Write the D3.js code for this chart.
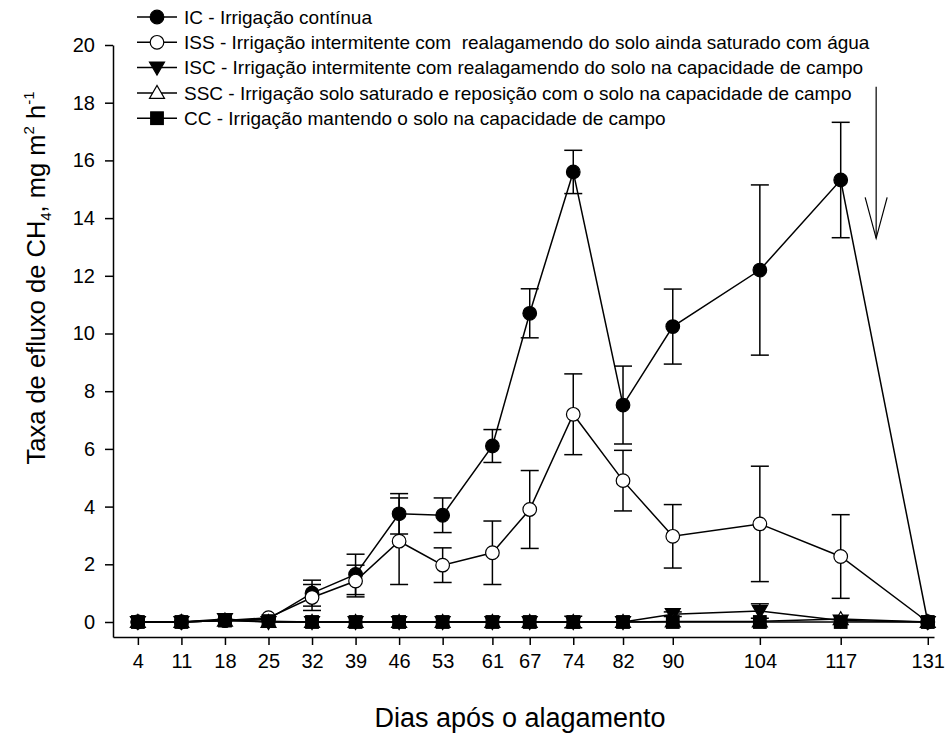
<!DOCTYPE html>
<html>
<head>
<meta charset="utf-8">
<script src="https://cdn.jsdelivr.net/npm/d3@7"></script>
<style>
  html, body { margin: 0; padding: 0; background: #fff; }
  svg { display: block; font-family: "Liberation Sans", Arial, sans-serif; }
  text { white-space: pre; }
</style>
</head>
<body>
<svg id="chart" width="948" height="733"></svg>
<script>
// Sampling days after flooding
const days = [4, 11, 18, 25, 32, 39, 46, 53, 61, 67, 74, 82, 90, 104, 117, 131];

// CH4 efflux (mg m-2 h-1) and error bars per treatment
const icValues  = [0, 0, 0.05, 0.1, 1.0, 1.65, 3.75, 3.7, 6.1, 10.7, 15.6, 7.52, 10.24, 12.2, 15.32, 0];
const icErrors  = [0, 0, 0, 0, 0.45, 0.7, 0.7, 0.6, 0.57, 0.85, 0.75, 1.35, 1.3, 2.95, 2.0, 0];
const issValues = [0, 0, 0.05, 0.15, 0.85, 1.42, 2.8, 1.97, 2.4, 3.9, 7.2, 4.9, 2.97, 3.4, 2.27, 0];
const issErrors = [0, 0, 0, 0, 0.45, 0.55, 1.5, 0.6, 1.1, 1.35, 1.4, 1.05, 1.1, 2.0, 1.45, 0];
const iscValues = [0, 0, 0.1, 0, 0, 0, 0, 0, 0, 0, 0, 0, 0.27, 0.38, 0.05, 0];
const iscErrors = [0, 0, 0, 0, 0, 0, 0, 0, 0, 0, 0.2, 0, 0.08, 0.25, 0, 0];
const sscValues = [0, 0, 0.05, 0, 0, 0, 0, 0, 0, 0, 0, 0, 0.02, 0.02, 0.1, 0];
const sscErrors = [0, 0, 0, 0, 0, 0, 0, 0, 0, 0, 0, 0, 0, 0, 0, 0];
const ccValues  = [0, 0, 0.05, 0.03, 0, 0, 0, 0, 0, 0, 0, 0, 0, 0, 0, 0];
const ccErrors  = [0, 0, 0, 0, 0, 0, 0, 0, 0, 0, 0, 0, 0, 0, 0, 0];

const yTicks = [0, 2, 4, 6, 8, 10, 12, 14, 16, 18, 20];

const seriesNames = [
  "IC - Irrigação contínua",
  "ISS - Irrigação intermitente com  realagamendo do solo ainda saturado com água",
  "ISC - Irrigação intermitente com realagamendo do solo na capacidade de campo",
  "SSC - Irrigação solo saturado e reposição com o solo na capacidade de campo",
  "CC - Irrigação mantendo o solo na capacidade de campo"
];
const seriesValues = [icValues, issValues, iscValues, sscValues, ccValues];
const seriesErrors = [icErrors, issErrors, iscErrors, sscErrors, ccErrors];
const seriesMarkers = ["circleFilled", "circleOpen", "triangleDown", "triangleUpOpen", "square"];

const svg = d3.select("#chart");

const x = d3.scaleLinear().domain([0, 132]).range([113, 934]);
const y = d3.scaleLinear().domain([-0.52, 20]).range([637, 45]);

// Axes
const xAxis = d3.axisBottom(x).tickValues(days).tickFormat(d3.format("d"))
  .tickSizeInner(8).tickSizeOuter(0).tickPadding(9);
const yAxis = d3.axisLeft(y).tickValues(yTicks).tickFormat(d3.format("d"))
  .tickSizeInner(8).tickSizeOuter(0).tickPadding(10);

const gx = svg.append("g").attr("transform", `translate(0,${y(-0.52)})`).call(xAxis);
const gy = svg.append("g").attr("transform", `translate(${x(0)},0)`).call(yAxis);
[gx, gy].forEach(g => {
  g.select(".domain").attr("stroke", "#000").attr("stroke-width", 1.5);
  g.selectAll(".tick line").attr("stroke", "#000").attr("stroke-width", 1.5);
  g.selectAll(".tick text").attr("fill", "#000").attr("font-size", 20)
    .attr("font-family", "Liberation Sans, Arial, sans-serif");
});

// Axis titles
svg.append("text")
  .attr("x", 520).attr("y", 727)
  .attr("text-anchor", "middle")
  .attr("font-size", 27)
  .text("Dias após o alagamento");

const yTitle = svg.append("text")
  .attr("transform", "translate(45,278) rotate(-90)")
  .attr("text-anchor", "middle")
  .attr("font-size", 25.5);
yTitle.append("tspan").text("Taxa de efluxo de CH");
yTitle.append("tspan").attr("font-size", 15).attr("dy", 6).text("4");
yTitle.append("tspan").attr("dy", -6).text(", mg m");
yTitle.append("tspan").attr("font-size", 15).attr("dy", -11).text("2");
yTitle.append("tspan").attr("dy", 11).text(" h");
yTitle.append("tspan").attr("font-size", 15).attr("dy", -11).text("-1");

// Marker drawing
function drawMarker(g, type, cx, cy) {
  const sw = 1.2;
  if (type === "circleFilled" || type === "circleOpen") {
    g.append("circle").attr("cx", cx).attr("cy", cy).attr("r", 6.8)
      .attr("fill", type === "circleFilled" ? "#000" : "#fff")
      .attr("stroke", "#000").attr("stroke-width", sw);
  } else if (type === "square") {
    g.append("rect").attr("x", cx - 6.3).attr("y", cy - 6.3).attr("width", 12.6).attr("height", 12.6)
      .attr("fill", "#000").attr("stroke", "#000").attr("stroke-width", sw);
  } else if (type === "triangleDown") {
    g.append("path").attr("d", `M${cx - 7.5},${cy - 5.5}L${cx + 7.5},${cy - 5.5}L${cx},${cy + 7.5}Z`)
      .attr("fill", "#000").attr("stroke", "#000").attr("stroke-width", sw);
  } else if (type === "triangleUpOpen") {
    g.append("path").attr("d", `M${cx - 7.5},${cy + 5.5}L${cx + 7.5},${cy + 5.5}L${cx},${cy - 7.5}Z`)
      .attr("fill", "#fff").attr("stroke", "#000").attr("stroke-width", sw);
  }
}

const line = d3.line().x(d => x(d.day)).y(d => y(d.v));
const capHalf = 9;

seriesValues.forEach((vals, si) => {
  const pts = days.map((day, i) => ({ day, v: vals[i], e: seriesErrors[si][i] }));
  const g = svg.append("g");
  // error bars
  pts.filter(p => p.e > 0).forEach(p => {
    const px = x(p.day), top = y(p.v + p.e), bot = y(p.v - p.e);
    g.append("line").attr("x1", px).attr("x2", px).attr("y1", top).attr("y2", bot)
      .attr("stroke", "#000").attr("stroke-width", 1.5);
    [top, bot].forEach(yy => g.append("line")
      .attr("x1", px - capHalf).attr("x2", px + capHalf).attr("y1", yy).attr("y2", yy)
      .attr("stroke", "#000").attr("stroke-width", 1.5));
  });
  g.append("path").datum(pts).attr("d", line)
    .attr("fill", "none").attr("stroke", "#000").attr("stroke-width", 1.5);
  pts.forEach(p => drawMarker(g, seriesMarkers[si], x(p.day), y(p.v)));
});

// Legend
const legend = svg.append("g");
seriesNames.forEach((name, i) => {
  const ly = 17 + i * 25.3;
  legend.append("line").attr("x1", 137).attr("x2", 177).attr("y1", ly).attr("y2", ly)
    .attr("stroke", "#000").attr("stroke-width", 1.5);
  drawMarker(legend, seriesMarkers[i], 157, ly);
  legend.append("text").attr("x", 184).attr("y", ly).attr("dy", "0.35em")
    .attr("font-size", 19).text(name);
});

// Arrow marking the end of flooding
const ax = x(122.7);
const aTop = y(18.55), aTip = y(13.3);
const arrow = svg.append("g").attr("stroke", "#000").attr("stroke-width", 1.2).attr("fill", "none");
arrow.append("line").attr("x1", ax).attr("x2", ax).attr("y1", aTop).attr("y2", aTip);
arrow.append("path").attr("d", `M${ax - 11},${aTip - 41}L${ax},${aTip}L${ax + 11},${aTip - 41}`);
</script>
</body>
</html>
